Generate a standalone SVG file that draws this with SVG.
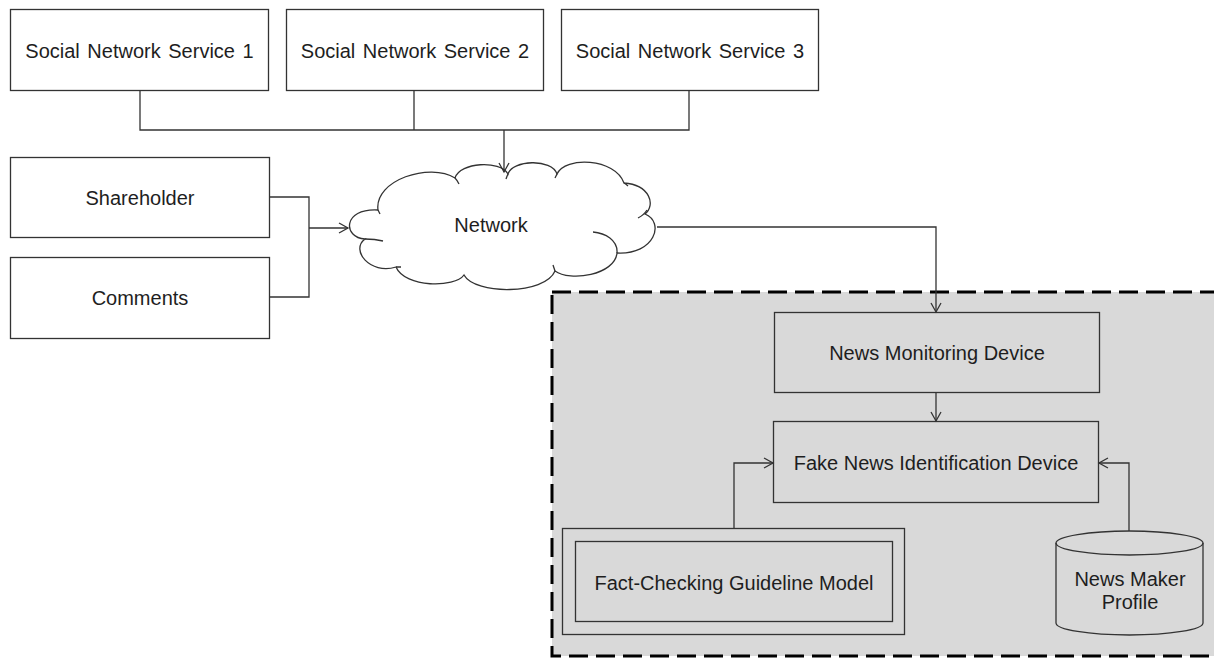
<svg xmlns="http://www.w3.org/2000/svg" width="1214" height="659" viewBox="0 0 1214 659">
<defs>
<style>
.box{fill:#fff;stroke:#333;stroke-width:1.3}
.gbox{fill:#d9d9d9;stroke:#333;stroke-width:1.3}
.t{font-family:"Liberation Sans",Arial,sans-serif;font-size:20px;fill:#1e1e1e;text-anchor:middle}
.c{fill:none;stroke:#333;stroke-width:1.3}
</style>
<marker id="ar" markerUnits="userSpaceOnUse" markerWidth="14" markerHeight="14" refX="10" refY="6" orient="auto">
<path d="M1,1 L10,6 L1,11" fill="none" stroke="#333" stroke-width="1.3"/>
</marker>
</defs>
<rect width="1214" height="659" fill="#fff"/>
<g id="region">
<rect x="552" y="292" width="700" height="364" fill="#d9d9d9" stroke="#000" stroke-width="3" stroke-dasharray="19 8"/>
</g>
<g id="sns1"><rect class="box" x="10.5" y="9.5" width="258" height="81"/><text class="t" x="139.5" y="58" word-spacing="2">Social Network Service 1</text></g>
<g id="sns2"><rect class="box" x="286.5" y="9.5" width="257" height="81"/><text class="t" x="415" y="58" word-spacing="2">Social Network Service 2</text></g>
<g id="sns3"><rect class="box" x="561.5" y="9.5" width="257" height="81"/><text class="t" x="690" y="58" word-spacing="2">Social Network Service 3</text></g>
<g id="shareholder"><rect class="box" x="10.5" y="157.5" width="259" height="80"/><text class="t" x="140" y="205">Shareholder</text></g>
<g id="comments"><rect class="box" x="10.5" y="257.5" width="259" height="81"/><text class="t" x="140" y="305">Comments</text></g>
<g id="network">
<path class="box" d="M365,239 C343,238 342,208 378,210 C374,180 430,162 455,178 C460,162 500,160 508,174 C512,160 552,158 557,174 C565,156 615,158 624,183 C650,185 656,205 645,214 C665,222 655,255 617,253 C615,275 570,282 555,271 C545,295 475,295 464,275 C455,288 405,288 396,267 C370,275 350,250 365,239 Z"/>
<path class="c" d="M365,239 Q375,239 383,241 M455,178 Q457,180 459,184 M508,174 Q507,176 506,179 M557,174 Q556,176 555,178 M624,183 Q626,184 628,186 M647,210 Q644,215 638,218 M617,253 C618,240 605,233 593,232 M555,271 Q554,268 553,265 M396,267 Q398,267 401,267 M378,210 Q379,212 380,214"/>
<text class="t" x="491" y="232">Network</text>
</g>
<g id="nmd"><rect class="gbox" x="774.5" y="312.5" width="325" height="80"/><text class="t" x="937" y="360">News Monitoring Device</text></g>
<g id="fnid"><rect class="gbox" x="773.5" y="421.5" width="325" height="81"/><text class="t" x="936" y="470">Fake News Identification Device</text></g>
<g id="fcgm"><rect class="gbox" x="562.5" y="528.5" width="342" height="106"/><rect class="gbox" x="575.5" y="541.5" width="317" height="80"/><text class="t" x="734" y="590">Fact-Checking Guideline Model</text></g>
<g id="nmp">
<path class="gbox" d="M1056,543 A73.5,12 0 0 1 1203,543 V623 A73.5,12 0 0 1 1056,623 Z"/>
<path class="c" d="M1056,543 A73.5,12 0 0 0 1203,543"/>
<text class="t" x="1130" y="586">News Maker</text>
<text class="t" x="1130" y="609">Profile</text>
</g>
<g id="connectors" class="c">
<path class="c" d="M140,90 V130 H689 V90 M414,90 V130"/>
<path class="c" d="M504,130 V172" marker-end="url(#ar)"/>
<path class="c" d="M269,197 H309 V297 H269"/>
<path class="c" d="M309,228 H348" marker-end="url(#ar)"/>
<path class="c" d="M657,227 H936 V312" marker-end="url(#ar)"/>
<path class="c" d="M936,392 V421" marker-end="url(#ar)"/>
<path class="c" d="M734,528 V463 H773" marker-end="url(#ar)"/>
<path class="c" d="M1129,531 V463 H1099" marker-end="url(#ar)"/>
</g>
</svg>
